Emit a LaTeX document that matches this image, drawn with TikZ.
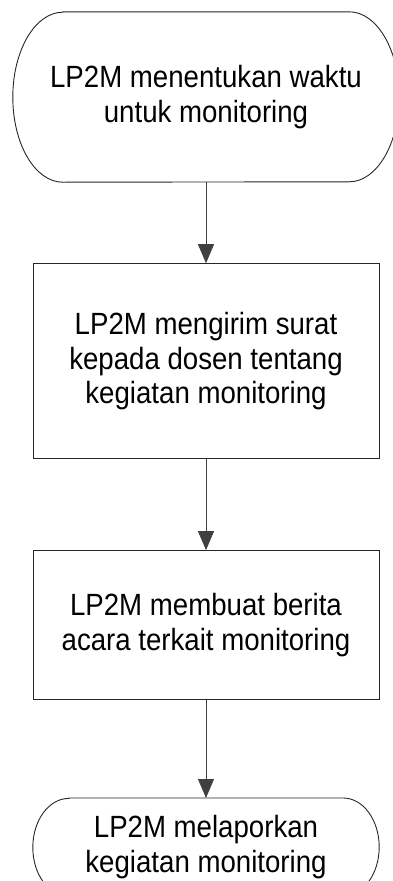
\documentclass[tikz,border=0pt]{standalone}
\usepackage{fontspec}
\setmainfont{Liberation Sans}[FakeStretch=0.9]
\usetikzlibrary{arrows.meta, positioning}

\begin{document}
\begin{tikzpicture}[
    x=1pt, y=1pt,
    proses/.style={rectangle, draw=black!85, line width=0.9pt, align=center,
      minimum width=346pt, inner sep=0pt, font=\fontsize{30.7}{34.3}\selectfont},
    terminal/.style={rectangle, align=center, inner sep=0pt,
      font=\fontsize{30.7}{34.3}\selectfont},
    garis/.style={draw=black!85, line width=0.9pt},
    panah/.style={-{Triangle[width=16pt, length=19pt]}, draw=black!75, line width=0.9pt}
  ]
    \clip[use as bounding box] (0,0) rectangle (393,-881);

    \node[terminal, minimum width=386pt, minimum height=170pt] (mulai) at (206,-97)
      {LP2M menentukan waktu\\untuk monitoring};
    \node[proses, minimum height=195pt, below=81pt of mulai] (kirim)
      {LP2M mengirim surat\\kepada dosen tentang\\kegiatan monitoring};
    \node[proses, minimum height=149pt, below=91pt of kirim] (berita)
      {LP2M membuat berita\\acara terkait monitoring};
    \node[terminal, minimum width=346pt, minimum height=98pt, below=98pt of berita] (lapor)
      {LP2M melaporkan\\kegiatan monitoring};

    % outline of the terminals
    \draw[garis] ([xshift=50pt]mulai.north west) -- ([xshift=-50pt]mulai.north east)
      arc[start angle=90, end angle=-90, x radius=50pt, y radius=85pt]
      -- ([xshift=50pt]mulai.south west)
      arc[start angle=270, end angle=90, x radius=50pt, y radius=85pt] -- cycle;
    \draw[garis] ([xshift=36pt]lapor.north west) -- ([xshift=-36pt]lapor.north east)
      arc[start angle=90, end angle=-90, x radius=36pt, y radius=49pt]
      -- ([xshift=36pt]lapor.south west)
      arc[start angle=270, end angle=90, x radius=36pt, y radius=49pt] -- cycle;

    \draw[panah] (mulai) -- (kirim);
    \draw[panah] (kirim) -- (berita);
    \draw[panah] (berita) -- (lapor);
  \end{tikzpicture}
\end{document}
